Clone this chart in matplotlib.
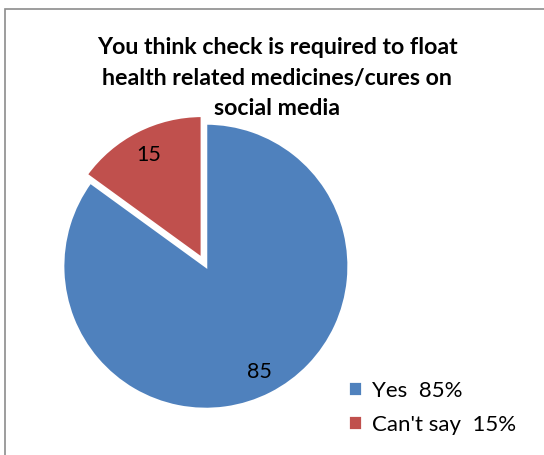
import matplotlib.pyplot as plt
from matplotlib.patches import Rectangle

plt.rcParams['font.family'] = ['Lato', 'DejaVu Sans']

# data
labels = ['Yes', "Can't say"]
values = [85, 15]
colors = ['#4F81BD', '#C0504D']
title = 'You think check is required to float\nhealth related medicines/cures on\nsocial media'

fig = plt.figure(figsize=(5.44, 4.56), dpi=100)

# chart frame
fig.patches.append(Rectangle((5 / 544, -0.01), 1.2, 446 / 456 + 0.01,
                             transform=fig.transFigure, fill=False,
                             edgecolor='#8c8c8c', linewidth=1.2))

ax = fig.add_axes([0.0632, 0.038, 0.6305, 0.752])
wedges, texts, autotexts = ax.pie(
    values, colors=colors, startangle=90, counterclock=False,
    explode=[0, 0.06], autopct=lambda p: f'{p:.0f}', pctdistance=0.82,
    wedgeprops=dict(edgecolor='white', linewidth=2),
    textprops=dict(fontsize=15.5, color='black'))
ax.set_xlim(-1.2, 1.2)
ax.set_ylim(-1.2, 1.2)
ax.set_aspect('equal')

fig.text(277 / 544, 1 - 78 / 456, title, ha='center', va='center',
         fontsize=16.7, fontweight='bold', linespacing=1.58)

leg = fig.legend(wedges, [f'{l}  {v}%' for l, v in zip(labels, values)],
                 loc='center left', bbox_to_anchor=(328 / 544, 1 - 408 / 456),
                 frameon=False, fontsize=16, handlelength=0.65, handleheight=0.65,
                 handletextpad=0.45, labelspacing=0.62)

fig.savefig('out.png', dpi=100)
